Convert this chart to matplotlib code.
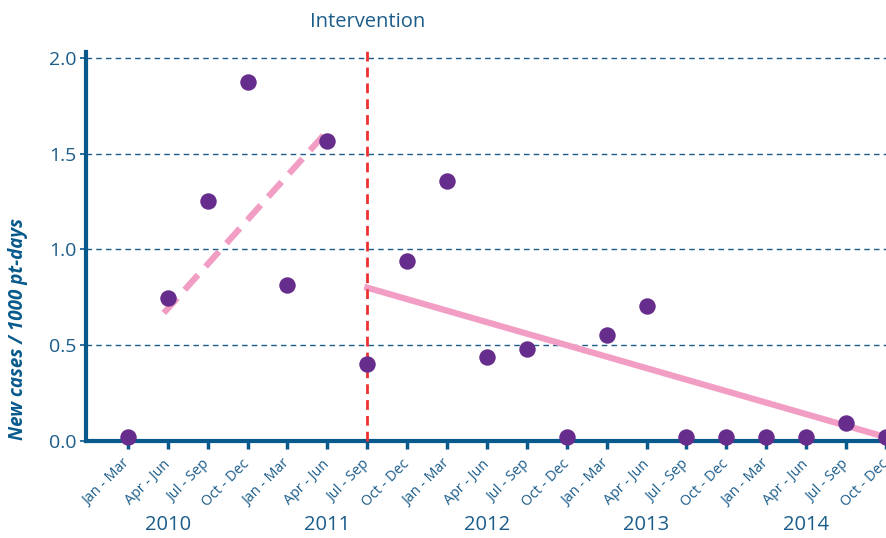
import matplotlib.pyplot as plt
from matplotlib.transforms import blended_transform_factory

# quarterly data 2010-2014
quarters = ['Jan - Mar', 'Apr - Jun', 'Jul - Sep', 'Oct - Dec'] * 5
years = ['2010', '2011', '2012', '2013', '2014']
rates = [0.02, 0.745, 1.25, 1.875, 0.815, 1.565, 0.40, 0.94, 1.357, 0.44,
         0.48, 0.02, 0.553, 0.705, 0.02, 0.02, 0.02, 0.02, 0.094, 0.02]

# fitted trends before / after intervention
pre_x = [0.9, 5.07]
pre_y = [0.668, 1.634]
post_x = [6, 19]
post_y = [0.80, 0.02]
intervention = 6

blue = '#1b5c8a'
axis_blue = '#085a8c'
purple = '#662d8c'
pink = '#f29ec4'
red = '#ee3030'

plt.rcParams['font.family'] = ['Open Sans', 'DejaVu Sans']

fig = plt.figure(figsize=(8.86, 5.38), dpi=100)
ax = fig.add_axes([86 / 886, 97 / 538, 800 / 886, 389 / 538])

x = list(range(len(rates)))

for yv in [0.5, 1.0, 1.5, 2.0]:
    ax.axhline(yv, color=blue, lw=1, ls=(0, (4, 3)), zorder=1)

ax.plot(pre_x, pre_y, color=pink, lw=4.5, ls=(0, (3.2, 1.8)), zorder=2,
        solid_capstyle='butt')
ax.plot(post_x, post_y, color=pink, lw=4.5, zorder=2, clip_on=False)
ax.plot([intervention, intervention], [0, 2.05], color=red, lw=2,
        ls=(0, (3.5, 2.2)), zorder=3, clip_on=False)
ax.scatter(x, rates, s=140, color=purple, zorder=4, clip_on=False,
           linewidths=0)

ax.set_xlim(-1.05, 18.8)
ax.set_ylim(0, 2.03)

for side in ['top', 'right']:
    ax.spines[side].set_visible(False)
for side in ['left', 'bottom']:
    ax.spines[side].set_color(axis_blue)
    ax.spines[side].set_linewidth(3)

ax.set_xticks(x)
ax.set_xticklabels(quarters, rotation=45, ha='right', va='center',
                   rotation_mode='anchor', fontsize=10.3, color=blue)
ax.tick_params(axis='x', length=6, width=2.5, color=axis_blue, pad=9)
ax.set_yticks([0, 0.5, 1.0, 1.5, 2.0])
ax.set_yticklabels(['0.0', '0.5', '1.0', '1.5', '2.0'], fontsize=14,
                   color=blue)
ax.tick_params(axis='y', length=4, width=1.2, color=axis_blue, pad=3)

ax.set_ylabel('New cases / 1000 pt-days', fontsize=13.5, color=axis_blue,
              fontweight='bold', fontstyle='italic')
ax.yaxis.set_label_coords(-0.0725, 0.288)

trans = blended_transform_factory(ax.transData, fig.transFigure)
for i, yr in enumerate(years):
    ax.text(1 + 4 * i, 1 - 525 / 538, yr, transform=trans, ha='center',
            va='center', fontsize=14.5, color=blue)

ax.text(intervention, 1 - 22 / 538, 'Intervention', transform=trans,
        ha='center', va='center', fontsize=14.5, color=blue)

fig.savefig('out.png', dpi=100)
